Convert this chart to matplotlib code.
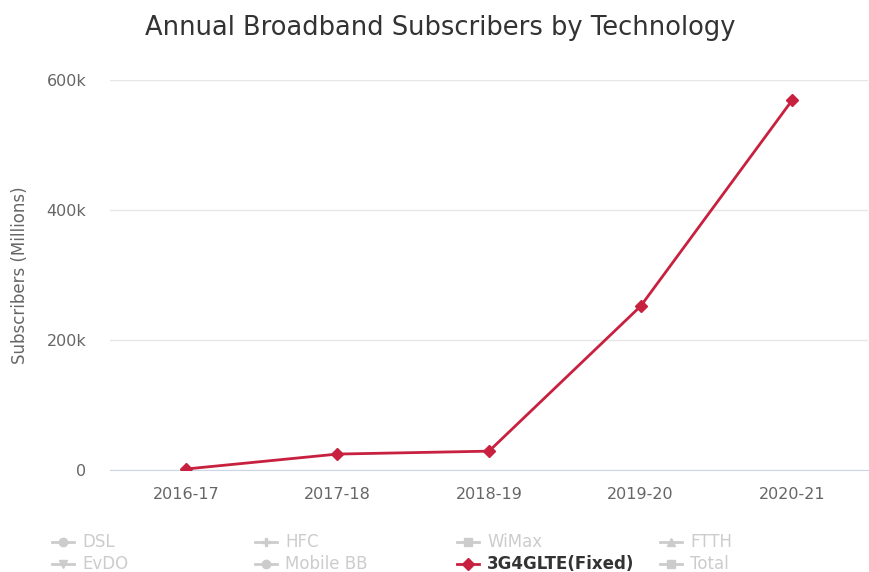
import matplotlib
matplotlib.use('Agg')
import matplotlib.pyplot as plt
from matplotlib.lines import Line2D
from matplotlib.ticker import FuncFormatter

# data
years = ['2016-17', '2017-18', '2018-19', '2019-20', '2020-21']
subs_3g4g = [1500, 24500, 29000, 252000, 569000]

legend_names = ['DSL', 'HFC', 'WiMax', 'FTTH', 'EvDO', 'Mobile BB', '3G4GLTE(Fixed)', 'Total']
legend_markers = ['o', 'P', 's', '^', 'v', 'o', 'D', 's']
active_series = '3G4GLTE(Fixed)'

line_color = '#c8203f'
grey = '#cccccc'

plt.rcParams['font.family'] = ['DejaVu Sans']

fig = plt.figure(figsize=(8.69, 5.72), dpi=100)
ax = fig.add_axes([110 / 869, 102 / 572, 758 / 869, 390 / 572])

x = list(range(len(years)))
ax.plot(x, subs_3g4g, color=line_color, lw=2, marker='D', ms=6, zorder=3)

ax.set_xlim(-0.5, len(years) - 0.5)
ax.set_ylim(0, 600000)
ax.set_yticks([0, 200000, 400000, 600000])
ax.yaxis.set_major_formatter(FuncFormatter(lambda v, p: '0' if v == 0 else f'{int(v / 1000)}k'))
ax.set_xticks(x)
ax.set_xticklabels(years)

ax.grid(axis='y', color='#e6e6e6', lw=1)
ax.set_axisbelow(True)
for s in ['top', 'right', 'left']:
    ax.spines[s].set_visible(False)
ax.spines['bottom'].set_color('#ccd6eb')
ax.tick_params(axis='both', length=0, colors='#666666', labelsize=11.5)
ax.tick_params(axis='x', pad=12)
ax.tick_params(axis='y', pad=17)
ax.set_ylabel('Subscribers (Millions)', color='#666666', fontsize=12, labelpad=13)

fig.text(440 / 869, 1 - 28 / 572, 'Annual Broadband Subscribers by Technology',
         ha='center', va='center', fontsize=18.5, color='#333333')

# legend laid out like the original (4 columns, 2 rows)
col_x = [52, 255, 457, 660]
row_y = [542, 564]
for i, name in enumerate(legend_names):
    cx = col_x[i % 4] / 869
    cy = 1 - row_y[i // 4] / 572
    c = line_color if name == active_series else grey
    tc = '#333333' if name == active_series else grey
    fig.add_artist(Line2D([cx, cx + 22 / 869], [cy, cy], color=c, lw=2,
                          transform=fig.transFigure))
    fig.add_artist(Line2D([cx + 11 / 869], [cy], color=c, marker=legend_markers[i], ms=6,
                          transform=fig.transFigure))
    fig.text(cx + 30 / 869, cy, name, va='center', ha='left', fontsize=12, color=tc,
             fontweight='bold' if name == active_series else 'normal')

fig.savefig('out.png', dpi=100)
